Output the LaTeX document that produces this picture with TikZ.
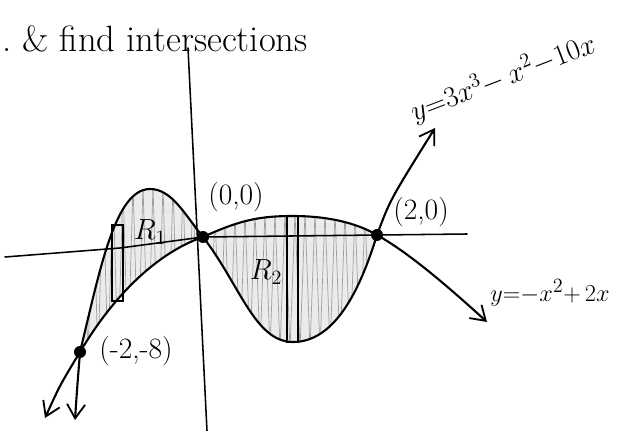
\documentclass[tikz,border=0pt]{standalone}
\usetikzlibrary{arrows.meta}
\begin{document}
\begin{tikzpicture}[x=0.025cm,y=-0.025cm,
  curve/.style={line width=1.5pt, line cap=round, line join=round},
  axis/.style={line width=1.1pt, line cap=round},
  barbs/.style={{Straight Barb[length=3.5mm,width=4.5mm,line width=1.3pt]}-{Straight Barb[length=3.5mm,width=4.5mm,line width=1.3pt]}},
  shade/.style={fill=gray!16},
  hatch/.style={draw=gray!75, line width=0.5pt, line join=round},
  strip/.style={line width=1.3pt},
  dot/.style={circle, fill=black, inner sep=0pt, minimum size=3mm},
  lab/.style={font=\fontsize{21}{23}\selectfont, inner sep=1pt},
  eqn/.style={font=\fontsize{20}{22}\selectfont, inner sep=1pt}]
\useasboundingbox (0,0) rectangle (624,431);

% ---- key points
\coordinate (A) at (80,352);   % (-2,-8)
\coordinate (O) at (203,237);  % (0,0)
\coordinate (B) at (377,235);  % (2,0)

% ---- shaded region R1 (cubic above parabola, -2<x<0)
\fill[shade] (A) .. controls (100,270) and (115,189) .. (150,189) .. controls (172,189) and (185,215) .. (O)
  .. controls (165,250) and (120,285) .. (A) -- cycle;
\begin{scope}
  \clip (A) .. controls (100,270) and (115,189) .. (150,189) .. controls (172,189) and (185,215) .. (O)
  .. controls (165,250) and (120,285) .. (A) -- cycle;
  \draw[hatch] (78,360) \foreach \i in {0,...,12} { -- ({83+10*\i},185) -- ({88+10*\i},360) };
\end{scope}

% ---- shaded region R2 (parabola above cubic, 0<x<2)
\fill[shade] (O) .. controls (240,220) and (260,216) .. (293,216) .. controls (325,216) and (355,222) .. (B)
  .. controls (360,290) and (335,342) .. (293,342) .. controls (255,342) and (240,285) .. (O) -- cycle;
\begin{scope}
  \clip (O) .. controls (240,220) and (260,216) .. (293,216) .. controls (325,216) and (355,222) .. (B)
  .. controls (360,290) and (335,342) .. (293,342) .. controls (255,342) and (240,285) .. (O) -- cycle;
  \draw[hatch] (200,350) \foreach \i in {0,...,18} { -- ({205+10*\i},212) -- ({210+10*\i},350) };
\end{scope}

% ---- axes
\coordinate (xl) at (5,257);
\coordinate (xr) at (467,234);
\coordinate (yt) at (188,48);
\coordinate (yb) at (207,431);
\draw[axis] (xl) -- (120,248) -- (O) -- (xr);
\draw[axis] (yt) -- (yb);

% ---- representative strips
\draw[strip] (112,225) rectangle (123,301);
\draw[strip, line width=1.8pt] (287,216) rectangle (298,342);

% ---- curves (free ends)
\coordinate (c1) at (75,420);
\coordinate (c2) at (435,128);
\coordinate (q1) at (45,418);
\coordinate (q2) at (487,322);
% cubic y = 3x^3 - x^2 - 10x
\draw[curve, barbs] (c1) .. controls (77,390) .. (A) .. controls (100,270) and (115,189) .. (150,189)
  .. controls (172,189) and (185,215) .. (O) .. controls (240,285) and (255,342) .. (293,342)
  .. controls (335,342) and (360,290) .. (B) .. controls (390,200) .. (c2);
% parabola y = -x^2 + 2x
\draw[curve, barbs] (q1) .. controls (60,385) .. (A) .. controls (120,285) and (165,250) .. (O)
  .. controls (240,220) and (260,216) .. (293,216) .. controls (325,216) and (355,222) .. (B)
  .. controls (400,248) and (430,270) .. (q2);

% ---- intersection points
\node[dot] (p0) at (O) {};
\node[dot] (p2) at (B) {};
\node[dot] (pm) at (A) {};

% ---- labels
\node[lab] (l0) at (236,197) {(0,0)};
\node[lab] (l2) at (421,212) {(2,0)};
\node[lab] (lm) at (136,351) {(-2,-8)};
\node[lab] (r1) at (150,232) {$R_1$};
\node[lab] (r2) at (266,272) {$R_2$};
\node[eqn, rotate=21] (ec) at (503,78) {$y{=}3x^{3}{-}\,x^{2}{-}10x$};
\node[eqn, font=\fontsize{19}{21}\selectfont] (ep) at (550,293) {$y{=}{-}x^{2}{+}\,2x$};
\node[font=\fontsize{26}{28}\selectfont, anchor=base west, inner sep=0pt] (title) at (2,52) {.\ \& find intersections};
\end{tikzpicture}
\end{document}
